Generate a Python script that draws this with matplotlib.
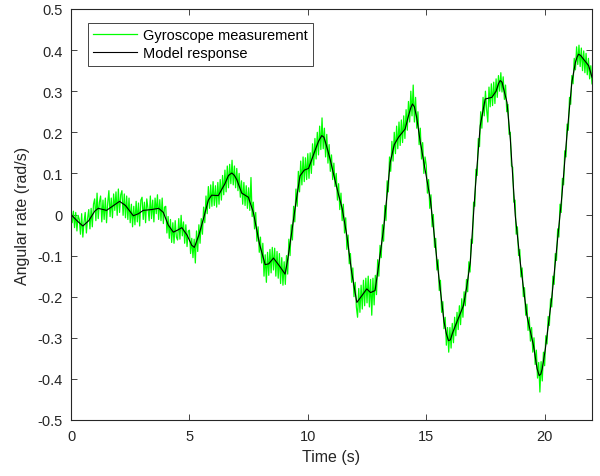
import numpy as np
import matplotlib.pyplot as plt

# model response (black)
model_t = [0.0, 0.25, 0.5, 0.75, 1.0, 1.15, 1.5, 1.75, 2.05, 2.3, 2.63, 2.85, 3.05, 3.4,
           3.7, 3.9, 4.1, 4.32, 4.5, 4.68, 4.9, 5.1, 5.21, 5.4, 5.59, 5.8, 5.94, 6.22, 6.5,
           6.65, 6.79, 6.9, 7.0, 7.21, 7.49, 7.7, 7.96, 8.2, 8.35, 8.55, 8.8, 9.04, 9.15,
           9.32, 9.5, 9.67, 9.85, 10.03, 10.3, 10.45, 10.59, 10.68, 10.75, 10.94, 11.1,
           11.29, 11.45, 11.65, 11.85, 12.07, 12.25, 12.49, 12.65, 12.84, 13.0, 13.2, 13.35,
           13.48, 13.65, 13.83, 14.11, 14.25, 14.35, 14.42, 14.5, 14.6, 14.74, 14.95, 15.17,
           15.31, 15.45, 15.59, 15.75, 15.85, 15.94, 16.02, 16.1, 16.29, 16.57, 16.7, 16.86,
           17.07, 17.28, 17.49, 17.77, 17.95, 18.05, 18.12, 18.2, 18.25, 18.41, 18.55, 18.76,
           18.97, 19.25, 19.53, 19.68, 19.77, 19.84, 19.9, 20.03, 20.31, 20.52, 20.73, 20.94,
           21.15, 21.3, 21.37, 21.43, 21.52, 21.64, 21.86, 22.0]
model_v = [0.0, -0.015, -0.028, -0.015, 0.008, 0.015, 0.010, 0.02, 0.032, 0.022, -0.003, 0.002,
           0.010, 0.012, 0.015, 0.005, -0.025, -0.043, -0.038, -0.032, -0.05, -0.075, -0.08,
           -0.05, -0.011, 0.035, 0.047, 0.046, 0.075, 0.095, 0.101, 0.095, 0.085, 0.052, 0.042,
           0.005, -0.072, -0.122, -0.12, -0.106, -0.125, -0.145, -0.11, -0.043, 0.03, 0.094,
           0.108, 0.112, 0.155, 0.178, 0.192, 0.188, 0.175, 0.135, 0.095, 0.05, 0.015, -0.052,
           -0.14, -0.214, -0.2, -0.181, -0.19, -0.185, -0.12, -0.035, 0.05, 0.127, 0.17, 0.188,
           0.208, 0.24, 0.26, 0.269, 0.262, 0.235, 0.18, 0.11, 0.038, -0.035, -0.11, -0.181,
           -0.26, -0.29, -0.307, -0.305, -0.29, -0.262, -0.222, -0.18, -0.116, 0.062, 0.216,
           0.281, 0.285, 0.300, 0.318, 0.326, 0.322, 0.31, 0.273, 0.184, -0.003, -0.116,
           -0.246, -0.319, -0.375, -0.392, -0.388, -0.375, -0.327, -0.198, -0.076, 0.046,
           0.192, 0.322, 0.37, 0.383, 0.39, 0.387, 0.378, 0.362, 0.334]

# gyroscope measurement (green), one value every 0.05 s, one row per second
gyro_v = [
    0.015, -0.020, 0.008, -0.032, 0.005, -0.040, -0.002, -0.012, -0.048, 0.002,
    -0.055, -0.018, 0.005, -0.045, -0.010, 0.012, -0.035, 0.015, -0.030, 0.025,
    0.038, -0.015, 0.052, -0.010, 0.030, 0.045, -0.018, 0.035, -0.012, 0.040,
    -0.020, 0.028, 0.058, -0.005, 0.040, -0.008, 0.050, 0.010, 0.055, -0.002,
    0.062, 0.005, 0.048, 0.058, -0.002, 0.050, -0.008, 0.045, -0.012, 0.040,
    -0.020, 0.025, -0.030, 0.020, -0.025, 0.032, -0.018, 0.028, -0.028, 0.035,
    0.042, -0.012, 0.030, -0.020, 0.038, 0.015, -0.015, 0.045, -0.010, 0.035,
    -0.018, 0.040, 0.002, 0.048, -0.012, 0.036, -0.015, 0.040, -0.022, 0.018,
    0.020, -0.045, -0.005, -0.058, -0.012, -0.068, -0.020, -0.070, -0.015, -0.055,
    -0.062, -0.010, -0.060, -0.002, -0.052, -0.018, -0.070, -0.025, -0.078, -0.040,
    -0.038, -0.095, -0.058, -0.105, -0.060, -0.118, -0.040, -0.090, -0.025, -0.070,
    -0.010, -0.048, 0.018, -0.020, 0.045, 0.002, 0.068, 0.015, 0.072, 0.020,
    0.080, 0.022, 0.070, 0.018, 0.078, 0.025, 0.085, 0.035, 0.095, 0.048,
    0.108, 0.055, 0.118, 0.065, 0.122, 0.075, 0.132, 0.072, 0.118, 0.065,
    0.112, 0.058, 0.100, 0.042, 0.082, 0.025, 0.078, 0.022, 0.070, 0.015,
    0.065, 0.010, 0.090, -0.005, 0.030, -0.035, 0.005, -0.065, -0.030, -0.092,
    -0.055, -0.118, -0.070, -0.150, -0.098, -0.165, -0.092, -0.148, -0.085, -0.142,
    -0.080, -0.135, -0.082, -0.150, -0.090, -0.155, -0.095, -0.168, -0.105, -0.172,
    -0.115, -0.170, -0.100, -0.145, -0.060, -0.100, -0.025, -0.062, 0.020, -0.018,
    0.062, 0.020, 0.105, 0.055, 0.130, 0.072, 0.140, 0.080, 0.138, 0.085,
    0.148, 0.088, 0.150, 0.100, 0.172, 0.120, 0.185, 0.135, 0.200, 0.145,
    0.215, 0.158, 0.235, 0.160, 0.210, 0.140, 0.195, 0.125, 0.170, 0.105,
    0.145, 0.085, 0.125, 0.068, 0.100, 0.035, 0.075, 0.012, 0.052, -0.015,
    0.025, -0.045, -0.008, -0.085, -0.050, -0.120, -0.095, -0.165, -0.130, -0.200,
    -0.165, -0.225, -0.250, -0.180, -0.238, -0.172, -0.230, -0.160, -0.222, -0.155,
    -0.215, -0.150, -0.225, -0.158, -0.245, -0.155, -0.220, -0.148, -0.195, -0.110,
    -0.150, -0.075, -0.105, -0.025, -0.065, 0.022, -0.015, 0.082, 0.055, 0.140,
    0.105, 0.178, 0.130, 0.200, 0.148, 0.215, 0.160, 0.225, 0.168, 0.230,
    0.175, 0.240, 0.185, 0.255, 0.205, 0.275, 0.225, 0.300, 0.240, 0.315,
    0.225, 0.285, 0.210, 0.250, 0.170, 0.210, 0.135, 0.175, 0.100, 0.140,
    0.120, 0.052, 0.085, 0.015, 0.048, -0.030, 0.000, -0.080, -0.058, -0.135,
    -0.110, -0.185, -0.160, -0.238, -0.212, -0.278, -0.250, -0.318, -0.275, -0.335,
    -0.275, -0.325, -0.265, -0.312, -0.250, -0.295, -0.238, -0.280, -0.222, -0.268,
    -0.205, -0.250, -0.188, -0.222, -0.158, -0.188, -0.115, -0.140, -0.060, -0.070,
    0.030, 0.020, 0.110, 0.095, 0.185, 0.165, 0.250, 0.210, 0.285, 0.240,
    0.300, 0.255, 0.225, 0.310, 0.262, 0.318, 0.265, 0.322, 0.270, 0.330,
    0.285, 0.338, 0.300, 0.345, 0.298, 0.335, 0.280, 0.315, 0.250, 0.268,
    0.195, 0.200, 0.118, 0.115, 0.030, 0.035, -0.048, -0.030, -0.100, -0.085,
    -0.152, -0.130, -0.200, -0.178, -0.245, -0.218, -0.282, -0.250, -0.308, -0.275,
    -0.335, -0.300, -0.365, -0.330, -0.398, -0.360, -0.432, -0.358, -0.405, -0.335,
    -0.368, -0.295, -0.315, -0.248, -0.270, -0.205, -0.225, -0.150, -0.170, -0.095,
    -0.112, -0.035, -0.055, 0.025, 0.005, 0.088, 0.072, 0.155, 0.140, 0.220,
    0.205, 0.285, 0.268, 0.338, 0.318, 0.380, 0.352, 0.408, 0.365, 0.412,
    0.360, 0.405, 0.350, 0.398, 0.345, 0.392, 0.340, 0.380, 0.330, 0.362,
    0.318]
gyro_t = np.arange(len(gyro_v)) * 0.05

plt.rcParams['font.family'] = ['Liberation Sans', 'DejaVu Sans']
plt.rcParams['axes.unicode_minus'] = False

fig = plt.figure(figsize=(6, 4.77), dpi=100)
ax = fig.add_axes([71 / 600, 1 - 421 / 477, 521 / 600, 411 / 477])

ax.plot(gyro_t, gyro_v, color=(0, 1, 0), linewidth=0.9, label="Gyroscope measurement")
ax.plot(model_t, model_v, color="k", linewidth=0.8, label="Model response")

ax.set_xlim(0, 22)
ax.set_ylim(-0.5, 0.5)
ax.set_xticks([0, 5, 10, 15, 20])
ax.set_yticks(np.round(np.arange(-0.5, 0.51, 0.1), 1))
ax.set_yticklabels(["-0.5", "-0.4", "-0.3", "-0.2", "-0.1", "0", "0.1", "0.2", "0.3", "0.4", "0.5"])
ax.tick_params(direction="in", top=True, right=True, length=4, width=0.6,
               color="#262626", labelsize=10.5, labelcolor="#262626")
ax.tick_params(axis="x", pad=6.5)
ax.tick_params(axis="y", pad=6)
for s in ax.spines.values():
    s.set_color("#262626")
    s.set_linewidth(0.8)

ax.set_xlabel("Time (s)", fontsize=11.5, color="#262626", labelpad=4)
ax.set_ylabel("Angular rate (rad/s)", fontsize=11.5, color="#262626", labelpad=5)

leg = ax.legend(loc="upper left", bbox_to_anchor=((88 - 71) / 521, (421 - 24) / 411),
                borderaxespad=0, fancybox=False, framealpha=1, edgecolor="#262626",
                fontsize=10.5, handlelength=3.0, handletextpad=0.4, borderpad=0.35,
                labelspacing=0.3)
leg.get_frame().set_linewidth(0.6)

fig.savefig("out.png", dpi=100)
